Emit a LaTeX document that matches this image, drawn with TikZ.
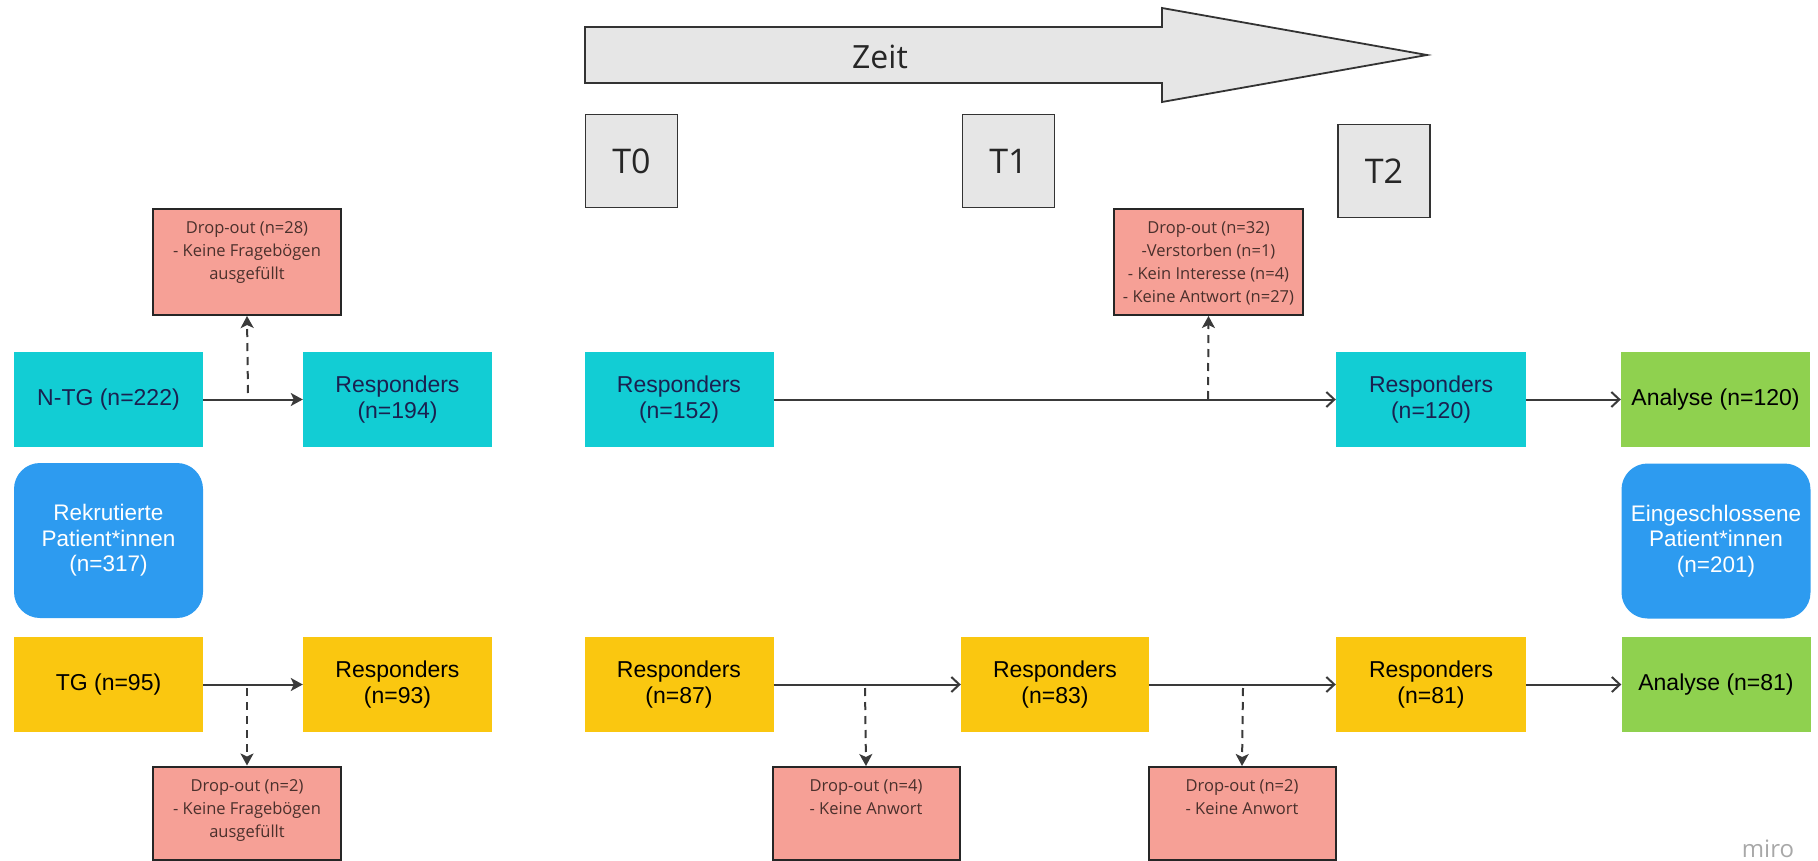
\documentclass[tikz,border=0pt]{standalone}
\usepackage{fontspec}
\setmainfont{Liberation Sans}
\newfontfamily\opensans{Open Sans}
\usetikzlibrary{arrows.meta}
\definecolor{cyanbox}{HTML}{12CDD4}
\definecolor{yellowbox}{HTML}{FAC710}
\definecolor{greenbox}{HTML}{8FD14F}
\definecolor{bluebox}{HTML}{2D9BF0}
\definecolor{dropfill}{HTML}{F6A096}
\definecolor{grayfill}{HTML}{E6E6E6}
\definecolor{navytext}{HTML}{1A2150}
\definecolor{droptext}{HTML}{4A302C}
\definecolor{linecol}{HTML}{3A3A3A}
\definecolor{mirogray}{HTML}{A8A8A8}
\tikzset{
  base/.style={rectangle, inner sep=0pt, align=center, font=\fontsize{23}{26}\selectfont},
  cyannode/.style={base, fill=cyanbox, text=navytext, minimum width=189pt, minimum height=95pt},
  yellownode/.style={base, fill=yellowbox, text=black, minimum width=189pt, minimum height=95pt},
  greennode/.style={base, fill=greenbox, text=black, minimum width=189pt, minimum height=95pt},
  bluenode/.style={base, fill=bluebox, text=white, rounded corners=26pt, minimum width=189pt, minimum height=155pt, font=\fontsize{22.5}{25.5}\selectfont},
  dropnode/.style={rectangle, inner sep=0pt, fill=dropfill, draw=black!85, line width=2pt, text=droptext, font=\opensans\fontsize{16.5}{23}\selectfont},
  timenode/.style={rectangle, inner sep=0pt, fill=grayfill, draw=black!80, line width=1.8pt, text=black!85, minimum width=92pt, minimum height=93pt, font=\opensans\fontsize{34}{38}\selectfont},
  flowfill/.style={draw=linecol, line width=2pt, -{Stealth[length=12pt,width=13pt,inset=3pt]}},
  flowopen/.style={draw=linecol, line width=2pt, -{Straight Barb[length=8pt,width=15pt]}},
  dropline/.style={draw=linecol, line width=2pt, dash pattern=on 8pt off 6pt, -{Stealth[length=12pt,width=13pt,inset=3pt]}},
}
\newcommand{\droptxt}[3]{\parbox[c][#2pt][t]{#1pt}{\centering\vspace*{13pt}#3\par}}
\begin{document}
\begin{tikzpicture}[x=1pt,y=-1pt]
\useasboundingbox (0,0) rectangle (1818,861);
% time arrow
\draw[fill=grayfill, draw=black!80, line width=1.8pt, line join=miter]
  (585,27) -- (1162,27) -- (1162,8) -- (1427,55) -- (1162,102) -- (1162,83) -- (585,83) -- cycle;
\node[font=\opensans\fontsize{32}{36}\selectfont, text=black!85] (zeit) at (880,57) {Zeit};
\node[timenode] (t0) at (631.5,161) {T0};
\node[timenode] (t1) at (1008.5,161) {T1};
\node[timenode] (t2) at (1384,171) {T2};
% left column
\node[cyannode] (ntg) at (108.5,399.5) {N-TG (n=222)};
\node[cyannode] (r194) at (397.5,399.5) {Responders\\(n=194)};
\node[dropnode] (do28) at (247,262) {\droptxt{188}{106}{Drop-out (n=28)\\- Keine Fragebögen\\ausgefüllt}};
\node[bluenode] (rek) at (108.5,540.5) {Rekrutierte\\Patient*innen\\(n=317)};
\node[yellownode] (tg) at (108.5,684.5) {TG (n=95)};
\node[yellownode] (r93) at (397.5,684.5) {Responders\\(n=93)};
\node[dropnode] (do2a) at (247,813) {\droptxt{188}{93}{Drop-out (n=2)\\- Keine Fragebögen\\ausgefüllt}};
% middle / right top
\node[cyannode] (r152) at (679,399.5) {Responders\\(n=152)};
\node[cyannode, minimum width=190pt] (r120) at (1431,399.5) {Responders\\(n=120)};
\node[greennode] (an120) at (1715.5,399.5) {Analyse (n=120)};
\node[dropnode] (do32) at (1208.5,262) {\droptxt{189}{106}{Drop-out (n=32)\\-Verstorben (n=1)\\- Kein Interesse (n=4)\\- Keine Antwort (n=27)}};
\node[bluenode] (ein) at (1716,541) {Eingeschlossene\\Patient*innen\\(n=201)};
% bottom row
\node[yellownode] (r87) at (679,684.5) {Responders\\(n=87)};
\node[yellownode, minimum width=188pt] (r83) at (1055,684.5) {Responders\\(n=83)};
\node[yellownode, minimum width=190pt] (r81) at (1431,684.5) {Responders\\(n=81)};
\node[greennode] (an81) at (1716,684.5) {Analyse (n=81)};
\node[dropnode] (do4) at (866,813.5) {\droptxt{187}{93}{Drop-out (n=4)\\- Keine Anwort}};
\node[dropnode] (do2b) at (1242,813.5) {\droptxt{187}{93}{Drop-out (n=2)\\- Keine Anwort}};
% watermark
\node[font=\opensans\fontsize{24}{26}\selectfont, text=mirogray, inner sep=0pt] (miro) at (1768,849) {miro};
% coordinates for branch points
\coordinate (b28) at (248,393);
\coordinate (b2a) at (247,688);
\coordinate (b32) at (1208,399);
\coordinate (b4) at (865,688);
\coordinate (b2b) at (1243,688);
% connectors
\draw[flowfill] (ntg.east) -- (r194.west);
\draw[flowfill] (tg.east) -- (r93.west);
\draw[dropline] (b28) -- (do28.south);
\draw[dropline] (b2a) -- (do2a.north);
\draw[flowopen] (r152.east) -- (r120.west);
\draw[flowopen] (r120.east) -- (an120.west);
\draw[dropline] (b32) -- (do32.south);
\draw[flowopen] (r87.east) -- (r83.west);
\draw[flowopen] (r83.east) -- (r81.west);
\draw[flowopen] (r81.east) -- (an81.west);
\draw[dropline] (b4) -- (do4.north);
\draw[dropline] (b2b) -- (do2b.north);
\end{tikzpicture}
\end{document}
